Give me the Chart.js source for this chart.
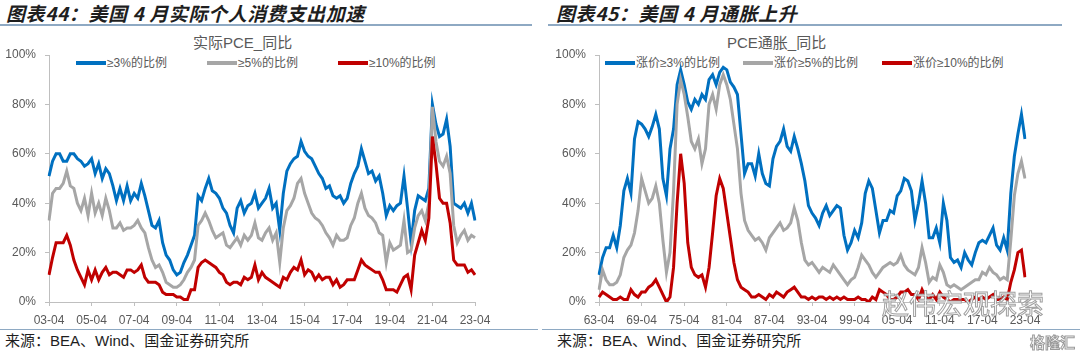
<!DOCTYPE html>
<html>
<head>
<meta charset="utf-8">
<script src="https://cdn.jsdelivr.net/npm/chart.js@4.4.0/dist/chart.umd.min.js"></script>
<style>
  body { margin: 0; background: #fff; width: 1080px; height: 352px; overflow: hidden; position: relative;
         font-family: "Liberation Sans", "Noto Sans CJK SC", sans-serif; }
  .abs { position: absolute; white-space: nowrap; }
  .head { font: italic bold 19px "Noto Sans CJK SC", sans-serif; letter-spacing: 0.6px; color: #1e1e1e; top: 1px; line-height: 24px; }
  .rule { position: absolute; height: 2px; background: #8ea9c3; }
  .ctitle { font-size: 15px; color: #595959; top: 34px; line-height: 18px; }
  .leg { font-size: 12px; color: #595959; top: 56px; line-height: 14px; }
  .leg i { display: inline-block; width: 30px; height: 4px; vertical-align: middle; margin-right: 1px; position: relative; top: -1px; }
  canvas { position: absolute; top: 30px; }
  .src { font-size: 15px; color: #1e1e1e; top: 331px; line-height: 19px; }
  .wm { font: 27px "Noto Sans CJK SC", sans-serif; color: #fff; -webkit-text-stroke: 1px #a0a0a0; top: 283px; left: 882px; }
  .wm2 { font: bold 15px "Noto Sans CJK SC", sans-serif; color: #fff; -webkit-text-stroke: 1px #9a9a9a; top: 331px; left: 1030px; }
</style>
</head>
<body>
<div class="abs head" style="left:6px">图表44：美国 4 月实际个人消费支出加速</div>
<div class="abs head" style="left:556px">图表45：美国 4 月通胀上升</div>
<div class="rule" style="left:0;top:24px;width:532px"></div>
<div class="rule" style="left:548px;top:24px;width:514px"></div>

<div class="abs ctitle" style="left:193px">实际PCE_同比</div>
<div class="abs ctitle" style="left:727px">PCE通胀_同比</div>

<div class="abs leg" style="left:76px"><i style="background:#0070c0"></i>≥3%的比例</div>
<div class="abs leg" style="left:207px"><i style="background:#a6a6a6"></i>≥5%的比例</div>
<div class="abs leg" style="left:338px"><i style="background:#c00000"></i>≥10%的比例</div>
<div class="abs leg" style="left:605px"><i style="background:#0070c0"></i>涨价≥3%的比例</div>
<div class="abs leg" style="left:743px"><i style="background:#a6a6a6"></i>涨价≥5%的比例</div>
<div class="abs leg" style="left:882px"><i style="background:#c00000"></i>涨价≥10%的比例</div>

<canvas id="leftChart" width="540" height="300" style="left:0"></canvas>
<canvas id="rightChart" width="540" height="300" style="left:540px"></canvas>

<div class="rule" style="left:0;top:329px;width:538px;height:1px"></div>
<div class="rule" style="left:542px;top:329px;width:538px;height:1px"></div>
<div class="abs src" style="left:5px">来源：BEA、Wind、国金证券研究所</div>
<div class="abs src" style="left:557px">来源：BEA、Wind、国金证券研究所</div>
<div class="abs wm">赵伟宏观探索</div>
<div class="abs wm2">格隆汇</div>

<script>
// x tick labels (shown every 12th point)
const leftTicks = ['03-04', '05-04', '07-04', '09-04', '11-04', '13-04', '15-04', '17-04', '19-04', '21-04', '23-04'];
const rightTicks = ['63-04', '69-04', '75-04', '81-04', '87-04', '93-04', '99-04', '05-04', '11-04', '17-04', '23-04'];

// 实际PCE_同比: every 2 months, 2003-04 .. 2023-04 (%)
const realGe3 = [51,57,60,60,57,57,60,60,58,57,55,56,
    58,52,56,50,54,52,47,41,46,41,47,41,
    44,42,48,43,37,31,30,33,24,19,17,13,
    11,12,16,19,23,27,43,41,46,50,45,44,
    42,38,36,31,28,38,41,36,39,40,44,38,
    40,42,46,38,40,29,44,53,56,58,59,65,
    61,59,58,55,52,50,46,47,43,42,43,40,
    42,48,52,55,62,57,52,53,49,51,44,35,
    39,37,39,40,51,38,24,37,43,42,41,46,
    80,72,67,68,74,63,40,39,38,40,36,40,
    33];
const realGe5 = [33,44,46,46,48,53,47,46,40,37,42,35,
    44,36,40,35,42,37,30,30,32,29,30,30,
    31,33,30,28,22,17,14,15,12,8,7,6,
    6,7,9,12,14,17,31,33,36,33,29,26,
    27,28,23,22,24,26,23,27,25,27,32,26,
    25,28,30,25,28,16,30,37,39,42,48,50,
    44,40,36,34,33,31,28,26,23,27,25,25,
    26,31,34,40,44,38,35,34,32,28,27,16,
    24,21,22,23,33,20,21,30,35,37,33,40,
    79,65,57,55,59,52,31,24,27,29,25,27,
    26];
const realGe10 = [11,18,24,24,24,27,23,17,13,10,7,13,
    9,13,9,12,14,11,12,12,11,10,13,13,
    12,13,15,10,8,8,8,7,4,3,3,3,
    2,2,1,1,5,5,14,16,17,16,15,14,
    12,11,8,7,8,8,7,10,9,10,15,9,
    12,10,9,8,7,6,10,9,12,14,13,17,
    11,13,12,9,11,9,10,10,7,9,6,7,
    9,9,9,13,17,15,14,13,12,12,9,5,
    5,5,4,7,10,11,5,19,24,29,25,34,
    67,56,42,40,40,32,17,15,15,15,12,13,
    11];

// PCE通胀_同比: every 6 months, 1963-04 .. 2023-04 (%)
const infGe3 = [11,18,22,22,27,22,31,45,50,44,66,73,
    72,70,67,71,76,70,50,43,62,70,88,94,
    88,81,78,82,80,84,82,90,92,88,93,95,
    94,89,87,84,68,52,56,56,51,60,52,48,
    47,58,63,65,70,63,61,67,62,56,49,39,
    36,34,31,36,39,35,37,39,38,27,21,24,
    29,26,32,44,49,46,37,28,33,33,37,36,
    43,45,50,49,45,33,40,49,40,26,26,30,
    24,40,33,18,16,17,14,20,17,15,20,24,
    25,24,27,30,23,21,26,21,44,59,68,76,
    66];
const infGe5 = [5,13,9,7,7,8,11,18,21,23,28,37,
    50,45,40,42,47,40,25,12,20,45,80,90,
    84,75,65,62,66,56,62,80,84,78,88,92,
    88,82,72,62,44,33,29,27,25,26,24,21,
    26,28,30,32,29,30,32,38,33,24,17,15,
    16,14,12,14,13,12,15,13,11,9,7,9,
    10,14,19,17,15,12,10,12,14,15,16,15,
    16,19,15,13,12,11,14,22,16,8,10,9,
    15,12,7,6,7,6,5,6,7,8,9,9,
    12,11,14,12,11,9,10,9,25,43,52,57,
    50];
const infGe10 = [2,4,3,2,1,1,2,1,1,5,3,2,
    4,4,6,7,9,6,3,0,2,14,40,60,
    48,24,14,11,10,11,6,14,28,43,50,46,
    36,26,16,9,6,5,4,2,2,3,2,1,
    3,2,4,3,2,4,5,6,4,2,2,1,
    2,1,2,2,1,2,1,2,1,2,1,1,
    1,2,1,1,0,2,1,5,4,3,1,1,
    2,4,4,5,3,3,1,5,2,1,3,1,
    4,2,1,0,1,1,1,1,0,1,2,1,
    2,1,2,3,1,1,2,1,8,13,20,21,
    10];

const BLUE = '#0070c0', GRAY = '#a6a6a6', RED = '#c00000', AXIS = '#bfbfbf', TEXT = '#595959';

function makeLabels(year, month, step, count) {
    const out = [];
    for (let i = 0; i < count; i++) {
        const m = month - 1 + i * step;
        const y = (year + Math.floor(m / 12)) % 100;
        out.push(String(y).padStart(2, '0') + '-' + String(m % 12 + 1).padStart(2, '0'));
    }
    return out;
}

function buildChart(id, labels, ticks, series, yWidth, padRight) {
    const ds = series.map(s => ({
        data: s.data,
        borderColor: s.color,
        borderWidth: 3,
        pointRadius: 0,
        tension: 0,
        fill: false,
        order: s.order
    }));
    return new Chart(document.getElementById(id), {
        type: 'line',
        data: { labels, datasets: ds },
        options: {
            responsive: false,
            animation: false,
            layout: { padding: { top: 25, right: padRight, left: 0, bottom: 0 } },
            plugins: { legend: { display: false }, title: { display: false }, tooltip: { enabled: false } },
            scales: {
                x: {
                    type: 'category',
                    offset: false,
                    border: { color: AXIS, width: 1 },
                    grid: { drawOnChartArea: false, color: AXIS, tickLength: 4 },
                    ticks: {
                        autoSkip: false, maxRotation: 0, padding: 7, color: TEXT,
                        font: { size: 12, family: '"Liberation Sans", sans-serif' },
                        callback: (v, i) => (i % 12 === 0 ? ticks[i / 12] : null)
                    },
                    afterFit: s => { s.height = 28; }
                },
                y: {
                    min: 0, max: 100,
                    border: { color: AXIS, width: 1 },
                    grid: { drawOnChartArea: false, color: AXIS, tickLength: 4 },
                    ticks: {
                        stepSize: 20, padding: 9, color: TEXT,
                        font: { size: 12, family: '"Liberation Sans", sans-serif' },
                        callback: v => v + '%'
                    },
                    afterFit: s => { s.width = yWidth; }
                }
            }
        }
    });
}

buildChart('leftChart', makeLabels(2003, 4, 2, realGe3.length), leftTicks, [
    { data: realGe3, color: BLUE, order: 3 },
    { data: realGe5, color: GRAY, order: 2 },
    { data: realGe10, color: RED, order: 1 }
], 49, 65);

buildChart('rightChart', makeLabels(1963, 4, 6, infGe3.length), rightTicks, [
    { data: infGe3, color: BLUE, order: 3 },
    { data: infGe5, color: GRAY, order: 2 },
    { data: infGe10, color: RED, order: 1 }
], 59, 55);
</script>
</body>
</html>
